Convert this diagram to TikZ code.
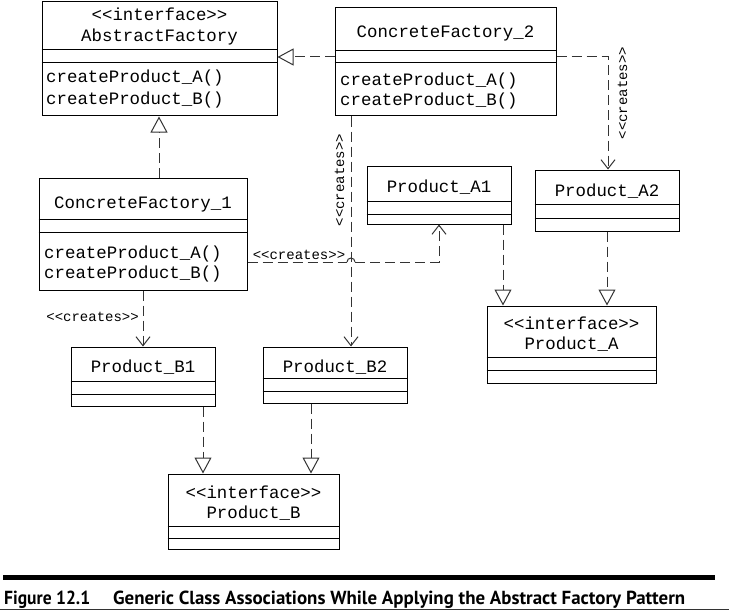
\documentclass[tikz,border=0pt]{standalone}
\usepackage{fontspec}
\setmonofont{Liberation Mono}
\newfontfamily\capfont{PT Sans}
\usetikzlibrary{arrows.meta,fit}

\tikzset{
  classbox/.style={draw, line width=1pt, inner sep=0pt},
  compart/.style={line width=1pt},
  title/.style={font=\ttfamily\fontsize{17.4}{20}\selectfont, inner sep=0pt,
                text height=10pt, text depth=0pt},
  meth/.style={title, anchor=west},
  stereo/.style={font=\ttfamily\fontsize{14}{16}\selectfont, inner sep=0pt,
                 text height=8pt, text depth=0pt},
  dep/.style={draw=black!80, line width=1pt, dash pattern=on 10pt off 5pt},
  realize/.style={dep, -{Triangle[open, length=16pt, width=17pt, fill=white, line width=1pt]}},
  creates/.style={dep, -{Straight Barb[length=9pt, width=14pt, line width=1pt]}},
  captionfont/.style={anchor=base west, inner sep=0pt, font=\capfont\bfseries},
}

% class box: name, x1, y1, x2, y2, first divider, second divider
\newcommand\umlclass[7]{%
  \node[classbox, fit={(#2,#3) (#4,#5)}] (#1) {};
  \draw[compart] (#1.west |- 0,#6) -- (#1.east |- 0,#6);
  \draw[compart] (#1.west |- 0,#7) -- (#1.east |- 0,#7);
}

\begin{document}
\begin{tikzpicture}[x=1pt, y=-1pt]
\useasboundingbox (0,0) rectangle (729,610);

% ---- classes ----
\umlclass{af}{42}{2}{277}{116}{50}{63}
\node[title] (af-st) at (159.5,16) {<<interface>>};
\node[title] (af-t) at (159.5,37) {AbstractFactory};
\node[meth] (af-m1) at (46,78) {createProduct\_A()};
\node[meth] (af-m2) at (46,100) {createProduct\_B()};

\umlclass{cf2}{335}{8}{556}{116}{51}{63}
\node[title] (cf2-t) at (445.5,33) {ConcreteFactory\_2};
\node[meth] (cf2-m1) at (340,80) {createProduct\_A()};
\node[meth] (cf2-m2) at (340,101) {createProduct\_B()};

\umlclass{cf1}{39}{178}{247}{290}{219}{232}
\node[title] (cf1-t) at (143,203) {ConcreteFactory\_1};
\node[meth] (cf1-m1) at (44,253) {createProduct\_A()};
\node[meth] (cf1-m2) at (44,273) {createProduct\_B()};

\umlclass{pa1}{367}{166}{511}{224}{201}{214}
\node[title] (pa1-t) at (439,187) {Product\_A1};

\umlclass{pa2}{535}{170}{679}{231}{204}{218}
\node[title] (pa2-t) at (607,191) {Product\_A2};

\umlclass{pa}{487}{306}{656}{383}{357}{370}
\node[title] (pa-st) at (571.5,324) {<<interface>>};
\node[title] (pa-t) at (571.5,344) {Product\_A};

\umlclass{pb1}{71}{347}{215}{406}{381}{394}
\node[title] (pb1-t) at (143,367) {Product\_B1};

\umlclass{pb2}{263}{347}{407}{403}{378}{391}
\node[title] (pb2-t) at (335,367) {Product\_B2};

\umlclass{pb}{168}{474}{339}{549}{526}{538}
\node[title] (pb-st) at (253.5,493) {<<interface>>};
\node[title] (pb-t) at (253.5,513) {Product\_B};

% ---- realizations ----
\draw[realize] (cf2.west |- 0,57) -- (af.east |- 0,57);
\draw[realize] (cf1.north -| 159,0) -- (af.south -| 159,0);
\draw[realize] (pa1.south -| 503,0) -- (pa.north -| 503,0);
\draw[realize] (pa2.south -| 607,0) -- (pa.north -| 607,0);
\draw[realize] (pb1.south -| 203,0) -- (pb.north -| 203,0);
\draw[realize] (pb2.south -| 311,0) -- (pb.north -| 311,0);

% ---- creates dependencies ----
\coordinate (bendA2) at (608,57);
\draw[creates] (cf2.east |- bendA2) -- (bendA2) -- (pa2.north -| bendA2);

\draw[creates] (cf2.south -| 351,0) -- (pb2.north -| 351,0);

\coordinate (bendA1) at (439,262);
\coordinate (hopL) at (347,262);
\coordinate (hopR) at (355,262);
\draw[dep] (cf1.east |- bendA1) -- (hopL);
\draw[draw=black!80, line width=1pt] (hopL) arc[start angle=180, end angle=0, radius=4pt];
\draw[creates] (hopR) -- (bendA1) -- (pa1.south -| bendA1);

\draw[creates] (cf1.south -| 143,0) -- (pb1.north -| 143,0);

% ---- stereotype labels ----
\node[stereo, rotate=90] (lbl-a2) at (623,93) {<<creates>>};
\node[stereo, rotate=90] (lbl-b2) at (340,180) {<<creates>>};
\node[stereo] (lbl-a1) at (299,255) {<<creates>>};
\node[stereo, anchor=east] (lbl-b1) at (139,317) {<<creates>>};

% ---- caption ----
\draw[line width=5pt] (3,577.5) -- (715,577.5);
\node[captionfont] (capnum) at (4,604)
  {\resizebox{86pt}{13.5pt}{Figure 12.1}};
\node[captionfont] (captext) at (113,604)
  {\resizebox{572pt}{13.5pt}{Generic Class Associations While Applying the Abstract Factory Pattern}};
\draw[black!80, line width=1.5pt] (0,609.25) -- (729,609.25);
\end{tikzpicture}
\end{document}
